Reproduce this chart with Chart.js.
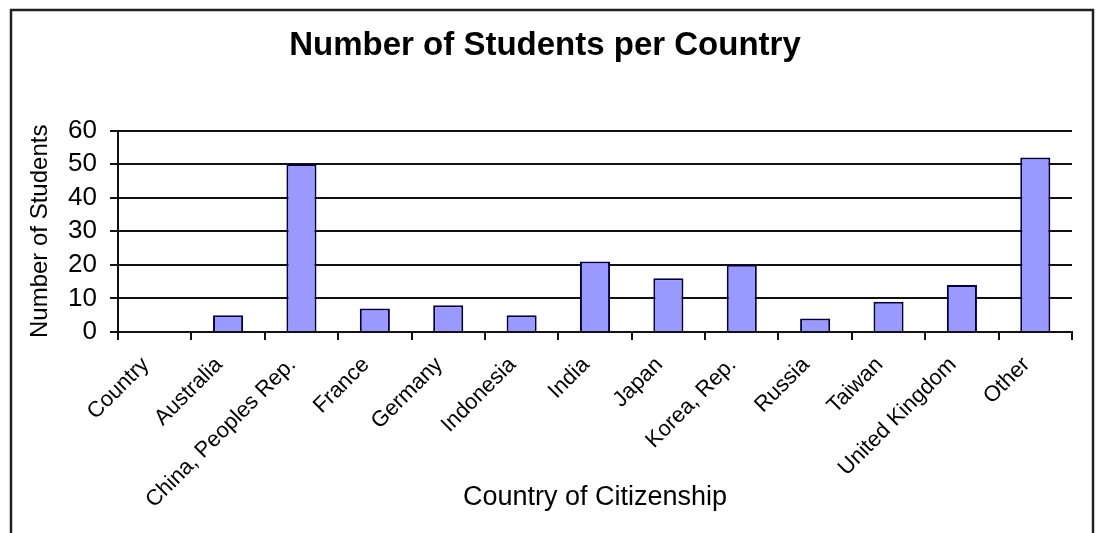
<!DOCTYPE html>
<html>
<head>
<meta charset="utf-8">
<script src="https://cdn.jsdelivr.net/npm/chart.js@4"></script>
<style>
  html, body { margin: 0; padding: 0; background: #fff; }
  #wrap { width: 1098px; height: 533px; }
</style>
</head>
<body>
<div id="wrap"><canvas id="studentsChart" width="1098" height="533"></canvas></div>
<script>
// Data
const countries = ["Country", "Australia", "China, Peoples Rep.", "France", "Germany", "Indonesia",
  "India", "Japan", "Korea, Rep.", "Russia", "Taiwan", "United Kingdom", "Other"];
const students = [0, 5, 50, 7, 8, 5, 21, 16, 20, 4, 9, 14, 52];
const yTicks = [0, 10, 20, 30, 40, 50, 60];

// Outer frame like the spreadsheet chart border
const frame = {
  id: "frame",
  afterDraw(chart) {
    const c = chart.ctx;
    c.save();
    c.strokeStyle = "#222";
    c.lineWidth = 2.5;
    c.strokeRect(11, 10, 1082, 540);
    c.restore();
  }
};

const ctx = document.getElementById("studentsChart").getContext("2d");
const chart = new Chart(ctx, {
  type: "bar",
  data: {
    labels: countries,
    datasets: [
      { label: "Students", data: students, backgroundColor: "#9999ff", borderColor: "#000040",
        borderWidth: 2, barPercentage: 0.41, categoryPercentage: 1 }
    ]
  },
  options: {
    responsive: false,
    animation: false,
    layout: { padding: { left: 18, right: 26, top: 0, bottom: 0 } },
    plugins: {
      legend: { display: false },
      tooltip: { enabled: false },
      title: {
        display: true,
        text: "Number of Students per Country",
        color: "#000",
        font: { family: "Arial, 'Liberation Sans'", size: 33, weight: "bold" },
        padding: { top: 26, bottom: 65 }
      }
    },
    scales: {
      x: {
        afterFit: s => { s.height = 201; },
        border: { display: true, color: "#111", width: 2 },
        grid: { offset: true, drawOnChartArea: false, drawTicks: true, tickLength: 8, color: "#111", lineWidth: 2 },
        ticks: { color: "#000", minRotation: 45, maxRotation: 45, padding: 12, labelOffset: -9, autoSkip: false,
          font: { family: "Arial, 'Liberation Sans'", size: 22 } },
        title: { display: true, text: "Country of Citizenship", color: "#000",
          font: { family: "Arial, 'Liberation Sans'", size: 27 }, padding: { top: 0, bottom: 19 } }
      },
      y: {
        min: 0, max: 60,
        afterFit: s => { s.width = 100; },
        afterBuildTicks: s => { s.ticks = yTicks.map(v => ({ value: v })); },
        border: { display: true, color: "#111", width: 2 },
        grid: { color: "#111", lineWidth: 2, tickLength: 8 },
        ticks: { color: "#000", padding: 13, autoSkip: false, stepSize: 10,
          font: { family: "Arial, 'Liberation Sans'", size: 26 } },
        title: { display: true, text: "Number of Students", color: "#000",
          font: { family: "Arial, 'Liberation Sans'", size: 24 }, padding: { top: 8, bottom: 0 } }
      }
    }
  },
  plugins: [frame]
});
</script>
</body>
</html>
